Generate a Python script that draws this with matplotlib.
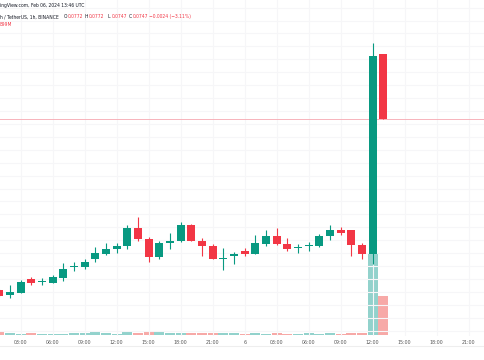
import matplotlib
matplotlib.use("Agg")
import matplotlib.pyplot as plt
import numpy as np

# ---- data (1h candles, hour index from Feb 05 00:00 UTC) ----
hours = list(range(1, 38))
opens = [0.06808, 0.06787, 0.06795, 0.06849, 0.06838, 0.06836, 0.06854, 0.06898, 0.06898, 0.06926,
         0.06947, 0.06967, 0.06978, 0.07047, 0.07006, 0.06936, 0.06988, 0.06997, 0.07059, 0.06997,
         0.06977, 0.06928, 0.06938, 0.06958, 0.06948, 0.06987, 0.07018, 0.06987, 0.06969, 0.06977,
         0.06977, 0.07018, 0.07039, 0.07040, 0.06981, 0.06947, 0.0772]
highs = [0.06810, 0.06826, 0.06846, 0.06859, 0.06854, 0.06864, 0.06911, 0.06916, 0.06929, 0.06975,
         0.06991, 0.06991, 0.07060, 0.07089, 0.07011, 0.06998, 0.07029, 0.07070, 0.07061, 0.07008,
         0.06984, 0.06971, 0.06956, 0.06969, 0.07020, 0.07041, 0.07049, 0.07008, 0.06984, 0.06992,
         0.07025, 0.07059, 0.07050, 0.07040, 0.06988, 0.07763, 0.0772]
lows = [0.06780, 0.06777, 0.06795, 0.06828, 0.06828, 0.06834, 0.06844, 0.06880, 0.06888, 0.06916,
        0.06944, 0.06950, 0.06967, 0.06996, 0.06916, 0.06929, 0.06967, 0.06995, 0.06997, 0.06938,
        0.06928, 0.06886, 0.06907, 0.06938, 0.06946, 0.06979, 0.06982, 0.06958, 0.06951, 0.06958,
        0.06974, 0.07000, 0.07019, 0.06939, 0.06929, 0.06908, 0.0747]
closes = [0.06784, 0.06800, 0.06839, 0.06836, 0.06839, 0.06857, 0.06888, 0.06898, 0.06916, 0.06950,
          0.06967, 0.06978, 0.07047, 0.07006, 0.06936, 0.06988, 0.06998, 0.07059, 0.06997, 0.06977,
          0.06928, 0.06928, 0.06948, 0.06948, 0.06989, 0.07018, 0.06987, 0.06966, 0.06969, 0.06977,
          0.07018, 0.07039, 0.07027, 0.06981, 0.06947, 0.07712, 0.0747]
volumes = [100, 46, 23, 38, 15, 23, 23, 38, 38, 61,
           38, 23, 61, 46, 77, 61, 54, 38, 38, 46,
           46, 54, 38, 31, 54, 31, 38, 15, 31, 38,
           31, 38, 31, 54, 38, 1860, 899]  # millions

tick_hours = [3, 6, 9, 12, 15, 18, 21, 24, 27, 30, 33, 36, 39, 42, 45]
tick_labels = ["03:00", "06:00", "09:00", "12:00", "15:00", "18:00", "21:00", "6",
               "03:00", "06:00", "09:00", "12:00", "15:00", "18:00", "21:00"]

GREEN = "#089981"
RED = "#F23645"
VGREEN = "#92D2CC"
VRED = "#F7A9A7"
GRID = "#F6F6F8"
TXT = "#131722"

W, H = 485, 360
fig = plt.figure(figsize=(W / 100, H / 100), dpi=100)
fig.patch.set_facecolor("white")

ax_bottom_px = 336
ax = fig.add_axes([0, 1 - ax_bottom_px / H, 1, ax_bottom_px / H])
axv = ax.twinx()

ax.set_xlim(1.06, 46.53)
ax.set_ylim(0.066296, 0.079294)
axv.set_ylim(-25, 7744)

# grid
for p in np.arange(0.0665, 0.0795, 0.0005):
    ax.axhline(p, color=GRID, lw=0.8, zorder=0)
for t in tick_hours:
    ax.axvline(t, color=GRID, lw=0.8, zorder=0)

# volume
vcols = [VGREEN if c >= o else VRED for o, c in zip(opens, closes)]
axv.bar(hours, volumes, width=0.95, color=vcols, zorder=1, linewidth=0)

# candles
mintick = 0.00004
for h_, o, hi, lo, c in zip(hours, opens, highs, lows, closes):
    col = GREEN if c >= o else RED
    ax.vlines(h_, lo, hi, color=col, lw=0.8, zorder=3)
    b = min(o, c)
    ht = max(abs(c - o), mintick)
    ax.bar(h_, ht, bottom=b, width=0.75, color=col, linewidth=0, zorder=4)

# last price line
ax.axhline(closes[-1], color="#F7B3BB", lw=0.7, zorder=2)

ax.set_zorder(2)
axv.set_zorder(1)
ax.patch.set_visible(False)

for a in (ax, axv):
    for s in a.spines.values():
        s.set_visible(False)
    a.set_yticks([])
ax.set_xticks(tick_hours)
ax.set_xticklabels(tick_labels, fontsize=3.4, color="#555555")
ax.tick_params(axis="x", length=0, pad=3)

# time axis separator
fig.add_artist(plt.Line2D([0, 1], [1 - 345.5 / H, 1 - 345.5 / H], color="#EEEEEE", lw=0.8))

# header text
def ftxt(x, y, s, color=TXT, **kw):
    fig.text(x / W, 1 - y / H, s, fontsize=3.25, color=color, va="center", ha="left", **kw)

ftxt(0, 6, "ingView.com, Feb 06, 2024 13:46 UTC")
ftxt(0, 16.7, "h / TetherUS, 1h, BINANCE")
ftxt(63.5, 16.7, "O")
ftxt(67.7, 16.7, "0.0772", RED)
ftxt(85, 16.7, "H")
ftxt(89, 16.7, "0.0772", RED)
ftxt(107.3, 16.7, "L")
ftxt(111.3, 16.7, "0.0747", RED)
ftxt(128.3, 16.7, "C")
ftxt(132.7, 16.7, "0.0747", RED)
ftxt(149.3, 16.7, "\u22120.0024 (\u22123.11%)", RED)
ftxt(0, 24, "899M", RED)

fig.savefig("out.png", dpi=100, facecolor="white")
